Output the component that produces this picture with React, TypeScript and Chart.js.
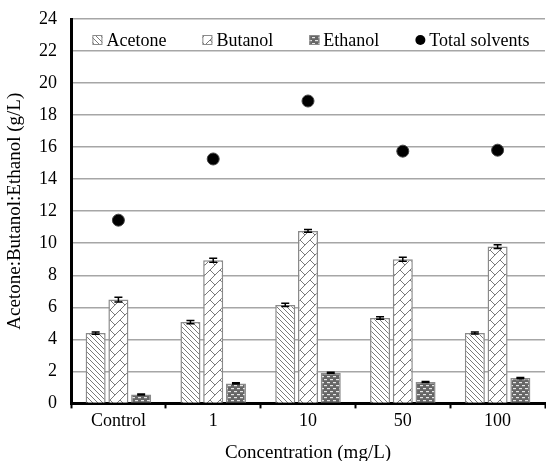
import React, { useEffect, useRef } from "react";
import { Chart, registerables } from "chart.js";

Chart.register(...registerables);

const categories = ["Control", "1", "10", "50", "100"];
const acetone = [4.39, 5.08, 6.15, 5.33, 4.4];
const butanol = [6.48, 8.94, 10.77, 9.0, 9.79];
const ethanol = [0.56, 1.25, 1.92, 1.33, 1.58];
const totalSolvents = [11.44, 15.26, 18.88, 15.75, 15.81];
const acetoneErr = [0.07, 0.1, 0.1, 0.08, 0.06];
const butanolErr = [0.15, 0.12, 0.08, 0.12, 0.12];
const ethanolErr = [0.03, 0.04, 0.03, 0.03, 0.04];
const yTicks = [0, 2, 4, 6, 8, 10, 12, 14, 16, 18, 20, 22, 24];

const FONT = '"Liberation Serif", "Times New Roman", serif';

function makePattern(kind: string): CanvasPattern | string {
  const c = document.createElement("canvas");
  const g = c.getContext("2d");
  if (!g) return "#888";
  if (kind === "acetone") {
    const s = 5;
    c.width = s;
    c.height = s;
    g.fillStyle = "#ffffff";
    g.fillRect(0, 0, s, s);
    g.strokeStyle = "#7a7a7a";
    g.lineWidth = 1;
    for (const o of [-s, 0, s]) {
      g.beginPath();
      g.moveTo(o, 0);
      g.lineTo(o + s, s);
      g.stroke();
    }
  } else if (kind === "butanol") {
    const s = 10;
    c.width = s;
    c.height = s;
    g.fillStyle = "#ffffff";
    g.fillRect(0, 0, s, s);
    g.strokeStyle = "#7a7a7a";
    g.lineWidth = 1;
    for (const o of [-s, 0, s]) {
      g.beginPath();
      g.moveTo(o, s);
      g.lineTo(o + s, 0);
      g.stroke();
      g.beginPath();
      g.moveTo(o, 0);
      g.lineTo(o + s / 2, s / 2);
      g.stroke();
    }
  } else {
    c.width = 6;
    c.height = 6;
    g.fillStyle = "#666666";
    g.fillRect(0, 0, 6, 6);
    g.fillStyle = "#e6e6e6";
    g.fillRect(0, 1, 3, 1.2);
    g.fillRect(3, 4, 3, 1.2);
  }
  return g.createPattern(c, "repeat") || "#888";
}

const errorBarPlugin = {
  id: "errorBars",
  afterDatasetsDraw(chart: any) {
    const errs = [acetoneErr, butanolErr, ethanolErr];
    const ctx = chart.ctx;
    const yScale = chart.scales.y;
    ctx.save();
    ctx.strokeStyle = "#000";
    ctx.lineWidth = 1.5;
    for (let i = 0; i < 3; i++) {
      const meta = chart.getDatasetMeta(i);
      const vals = chart.data.datasets[i].data as number[];
      meta.data.forEach((el: any, j: number) => {
        const top = yScale.getPixelForValue(vals[j] + errs[i][j]);
        const bot = yScale.getPixelForValue(vals[j] - errs[i][j]);
        const x = el.x;
        ctx.beginPath();
        ctx.moveTo(x, top);
        ctx.lineTo(x, bot);
        ctx.moveTo(x - 4, top);
        ctx.lineTo(x + 4, top);
        ctx.moveTo(x - 4, bot);
        ctx.lineTo(x + 4, bot);
        ctx.stroke();
      });
    }
    ctx.restore();
  },
};

const legendPlugin = {
  id: "insideLegend",
  afterDraw(chart: any) {
    const { ctx, chartArea } = chart;
    const datasets = chart.data.datasets;
    ctx.save();
    ctx.font = `18px ${FONT}`;
    const box = 10;
    const tg = 4;
    const gap = 36;
    const widths = datasets.map((d: any) => box + tg + ctx.measureText(d.label).width);
    const total = widths.reduce((a: number, b: number) => a + b, 0) + gap * (datasets.length - 1);
    let x = (chartArea.left + chartArea.right) / 2 - total / 2 + 3;
    const y = chartArea.top + 21;
    datasets.forEach((d: any, i: number) => {
      if (d.type === "line") {
        ctx.beginPath();
        ctx.arc(x + box / 2, y, 5, 0, Math.PI * 2);
        ctx.fillStyle = "#000";
        ctx.fill();
      } else {
        ctx.fillStyle = d.backgroundColor;
        ctx.fillRect(x, y - box / 2, box, box);
        ctx.strokeStyle = "#8a8a8a";
        ctx.lineWidth = 1;
        ctx.strokeRect(x + 0.5, y - box / 2 + 0.5, box - 1, box - 1);
      }
      ctx.fillStyle = "#000";
      ctx.textBaseline = "middle";
      ctx.textAlign = "left";
      ctx.fillText(d.label, x + box + tg, y + 1);
      x += widths[i] + gap;
    });
    ctx.restore();
  },
};

export default function App() {
  const ref = useRef<HTMLCanvasElement | null>(null);
  useEffect(() => {
    if (!ref.current) return;
    const barCommon = {
      borderColor: "#8a8a8a",
      borderWidth: 1.5,
      categoryPercentage: 0.72,
      barPercentage: 0.88,
      order: 2,
    };
    const chart = new Chart(ref.current, {
      type: "bar",
      data: {
        labels: categories,
        datasets: [
          { ...barCommon, type: "bar", label: "Acetone", data: acetone, backgroundColor: makePattern("acetone") as any },
          { ...barCommon, type: "bar", label: "Butanol", data: butanol, backgroundColor: makePattern("butanol") as any },
          { ...barCommon, type: "bar", label: "Ethanol", data: ethanol, backgroundColor: makePattern("ethanol") as any },
          {
            type: "line",
            label: "Total solvents",
            data: totalSolvents,
            showLine: false,
            pointRadius: 6,
            pointBackgroundColor: "#000",
            pointBorderColor: "#444",
            pointBorderWidth: 1,
            order: 1,
          } as any,
        ],
      },
      options: {
        animation: false,
        responsive: false,
        maintainAspectRatio: false,
        layout: { autoPadding: false, padding: { top: 19, right: 1, left: 0, bottom: -2 } },
        plugins: { legend: { display: false }, tooltip: { enabled: false } },
        scales: {
          x: {
            offset: true,
            afterFit: (axis: any) => {
              axis.paddingLeft = 0;
              axis.paddingRight = 0;
            },
            grid: {
              display: true,
              drawOnChartArea: false,
              offset: true,
              tickLength: 5,
              tickColor: "#000",
              tickWidth: 2,
            },
            border: { display: true, color: "#000", width: 3 },
            ticks: { color: "#000", font: { family: FONT, size: 18 }, padding: 2 },
            title: {
              display: true,
              text: "Concentration (mg/L)",
              color: "#000",
              font: { family: FONT, size: 19, lineHeight: 1 },
              padding: { top: 10, bottom: 0 },
            },
          },
          y: {
            min: 0,
            max: 24,
            afterBuildTicks: (axis: any) => {
              axis.ticks = yTicks.map((v) => ({ value: v }));
            },
            afterFit: (axis: any) => {
              axis.paddingTop = 0;
              axis.paddingBottom = 0;
              axis.paddingLeft = 0;
              axis.paddingRight = 0;
            },
            grid: { color: "#a6a6a6", lineWidth: 1.5, drawTicks: false },
            border: { display: true, color: "#000", width: 3 },
            ticks: { color: "#000", font: { family: FONT, size: 18 }, padding: 14 },
            title: {
              display: true,
              text: "Acetone:Butanol:Ethanol (g/L)",
              color: "#000",
              font: { family: FONT, size: 19, lineHeight: 1 },
              padding: { top: 6, bottom: 0 },
            },
          },
        },
      },
      plugins: [errorBarPlugin, legendPlugin],
    });
    return () => chart.destroy();
  }, []);
  return (
    <div style={{ position: "fixed", left: 0, top: 0, width: 546, height: 461 }}>
      <canvas ref={ref} width={546} height={461} style={{ display: "block" }} />
    </div>
  );
}
